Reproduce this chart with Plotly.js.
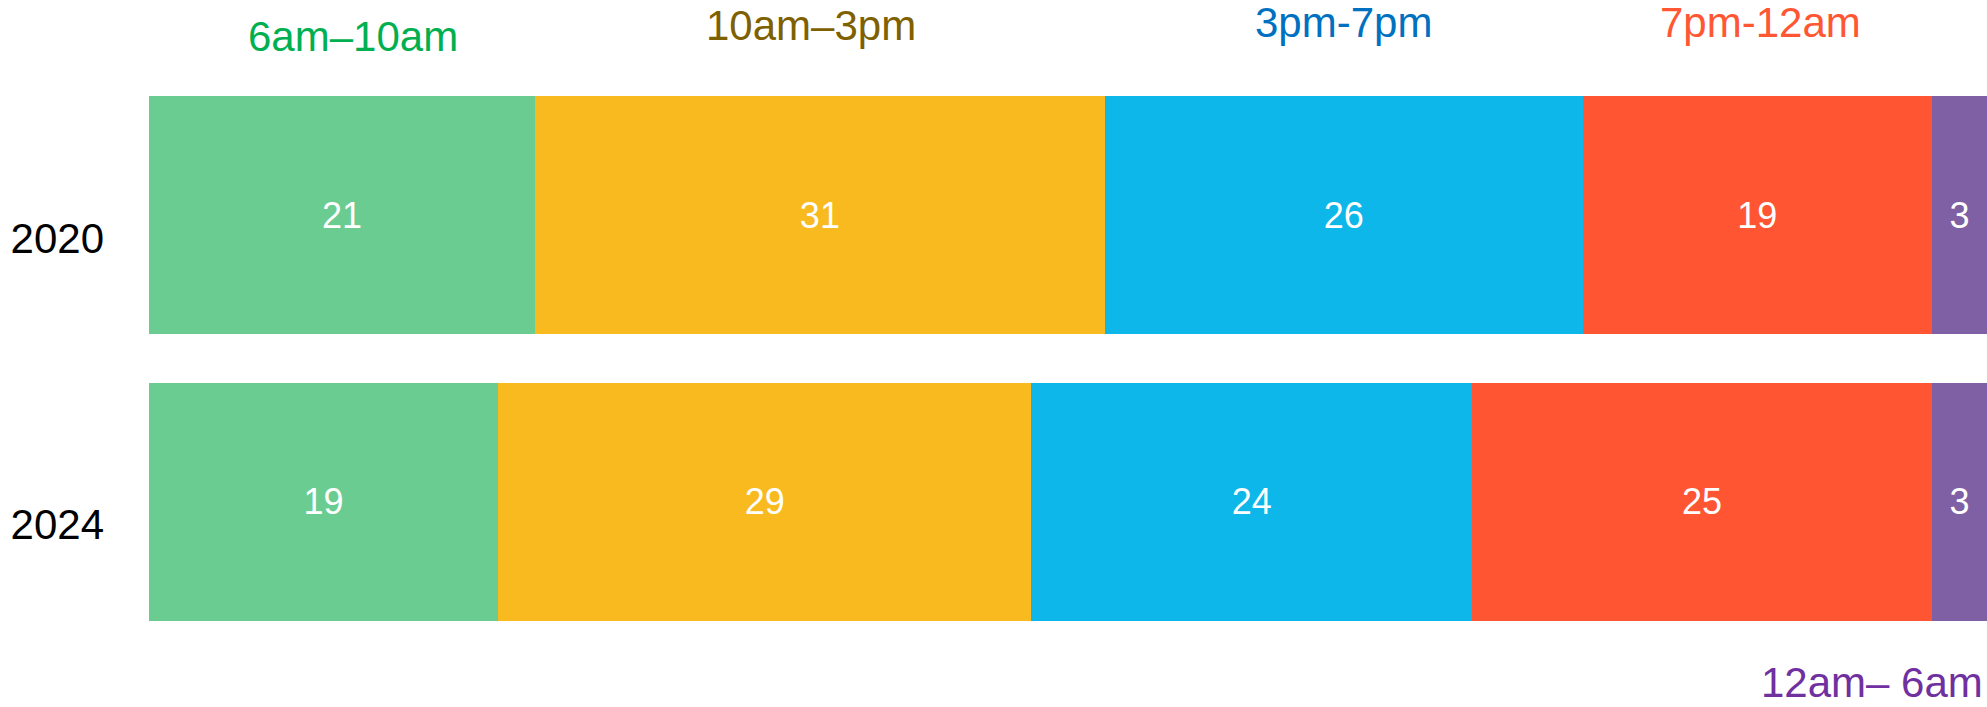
<!DOCTYPE html>
<html>
<head>
<meta charset="utf-8">
<script src="https://cdn.plot.ly/plotly-3.0.1.min.js"></script>
<style>html,body{margin:0;padding:0;background:#fff;}#chart{width:1987px;height:707px;}</style>
</head>
<body>
<div id="chart"></div>
<script>
const years = ["2020", "2024"];
const periods = ["6am–10am", "10am–3pm", "3pm-7pm", "7pm-12am", "12am– 6am"];
const share6to10 = [21, 19];
const share10to3 = [31, 29];
const share3to7 = [26, 24];
const share7to12 = [19, 25];
const share12to6 = [3, 3];
const barColors = ["#6BCC91", "#F8BA1E", "#0DB7E9", "#FF5533", "#7F60A5"];
const labelColors = ["#00B050", "#7F6000", "#0070C0", "#FF5733", "#7030A0"];
// label anchor positions (x in data units, y in paper units)
const labelX = [11.1, 36.0, 65.0, 87.7, 99.9];
const labelY = [1.062, 1.081, 1.086, 1.086, -0.066];
const labelAnchor = ["center", "center", "center", "center", "right"];

const seriesValues = [share6to10, share10to3, share3to7, share7to12, share12to6];
const font = "Liberation Sans, Arial, sans-serif";

const traces = seriesValues.map((vals, i) => ({
  type: "bar",
  orientation: "h",
  y: years,
  x: vals,
  name: periods[i],
  marker: {color: barColors[i], line: {width: 0}},
  text: vals.map(String),
  textposition: "inside",
  insidetextanchor: "middle",
  textangle: 0,
  textfont: {color: "#FFFFFF", size: 36, family: font},
  hoverinfo: "skip"
}));

const annotations = periods.map((p, i) => ({
  text: p,
  xref: "x",
  yref: "paper",
  x: labelX[i],
  y: labelY[i],
  xanchor: labelAnchor[i],
  yanchor: "middle",
  showarrow: false,
  font: {family: font, size: 42, color: labelColors[i]}
}));

const layout = {
  width: 1987,
  height: 707,
  margin: {l: 149, r: 0, t: 71.5, b: 61.5, pad: 0},
  barmode: "stack",
  bargap: 0.169,
  showlegend: false,
  paper_bgcolor: "#FFFFFF",
  plot_bgcolor: "#FFFFFF",
  xaxis: {range: [0, 100], visible: false, fixedrange: true},
  yaxis: {
    autorange: "reversed",
    showgrid: false,
    zeroline: false,
    showline: false,
    ticks: "",
    ticklabelstandoff: 44,
    ticklabelshift: -23,
    tickfont: {family: font, size: 42, color: "#000000"}
  },
  annotations: annotations
};

Plotly.newPlot("chart", traces, layout, {displayModeBar: false, staticPlot: true});
</script>
</body>
</html>
